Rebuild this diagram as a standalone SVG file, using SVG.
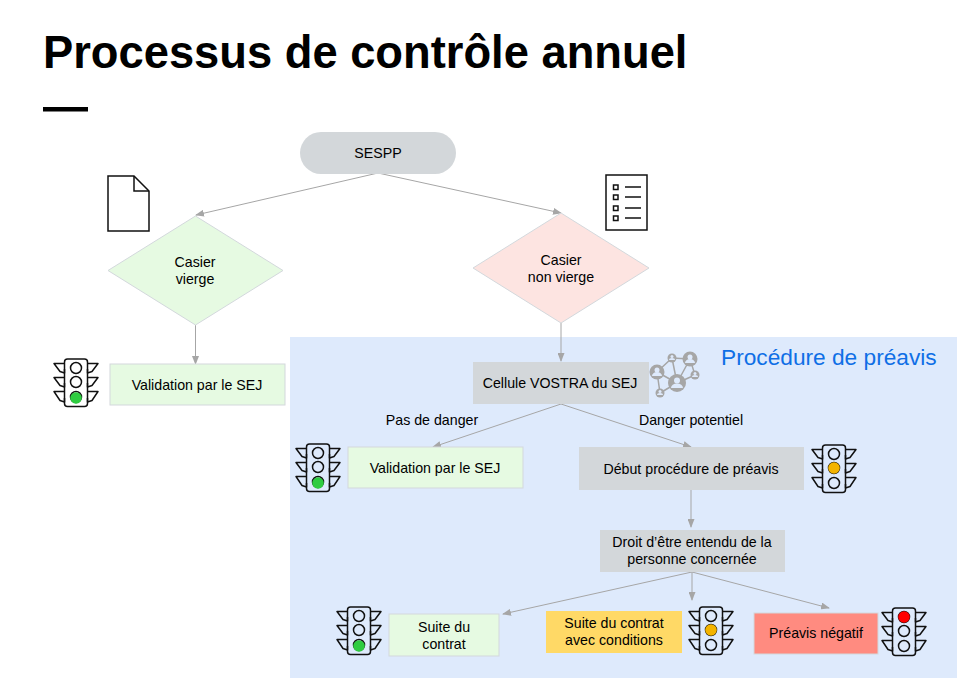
<svg xmlns="http://www.w3.org/2000/svg" width="973" height="682" viewBox="0 0 973 682">
<style>
text{font-family:"Liberation Sans",Arial,sans-serif;font-size:14.200px;fill:#000;text-anchor:middle}
.title{font-size:45.300px;font-weight:bold;text-anchor:start}
.blue{font-size:22.700px;fill:#0f6fe6;text-anchor:start}
.conn{fill:none;stroke:#a6a6a6;stroke-width:1;marker-end:url(#arr)}
.ic{fill:none;stroke:#111;stroke-width:1.500;stroke-linejoin:round}
.g{fill:#e6fae2;stroke:#d3d8dc;stroke-width:1}
.gr{fill:#d3d7da}
.lamp{fill:none;stroke:#111;stroke-width:1.500}
.net{fill:#a6a6a6;stroke:none}
.netl{stroke:#a6a6a6;stroke-width:1.500;fill:none}
</style>
<defs>
<marker id="arr" markerWidth="9" markerHeight="7" refX="8" refY="3.500" orient="auto" markerUnits="userSpaceOnUse"><path d="M0 0L9 3.500L0 7Z" fill="#a6a6a6"/></marker>
<g id="light">
<rect x="-11.500" y="-24" width="23" height="47.500" rx="3" fill="none" class="ic"/>
<path class="ic" d="M-11.500 -14V-10L-16 -11.500L-22 -19.500H-11.500M11.500 -14V-10L16 -11.500L22 -19.500H11.500"/>
<path class="ic" d="M-11.500 0V4L-16 2.500L-22 -5.500H-11.500M11.500 0V4L16 2.500L22 -5.500H11.500"/>
<path class="ic" d="M-11.500 15V19L-16 17.500L-22 8.500H-11.500M11.500 15V19L16 17.500L22 8.500H11.500"/>
<circle class="lamp" cy="-15" r="5.500"/><circle class="lamp" cy="-1" r="5.500"/><circle class="lamp" cy="14" r="5.500"/>
</g>
</defs>
<rect width="973" height="682" fill="#fff"/>
<rect x="290" y="337" width="667" height="341" fill="#deeafc"/>
<text class="title" x="43" y="68">Processus de contrôle annuel</text>
<rect x="43" y="107" width="45" height="4.500" fill="#000"/>
<text class="blue" x="721" y="365">Procédure de préavis</text>
<g id="connectors">
<path class="conn" d="M378 173L196 215"/>
<path class="conn" d="M378 173L561 213"/>
<path class="conn" d="M195.500 325V364"/>
<path class="conn" d="M561 323V361"/>
<path class="conn" d="M561 404L433 447"/>
<path class="conn" d="M561 404L691 447"/>
<path class="conn" d="M691 490V527"/>
<path class="conn" d="M692 572L503 614"/>
<path class="conn" d="M692 572V600"/>
<path class="conn" d="M692 572L829 608"/>
</g>
<g id="sespp"><rect class="gr" x="300" y="132" width="156" height="42" rx="21"/><text x="378" y="158">SESPP</text></g>
<g id="doc-icon"><path d="M108 176H134L149 191V231H108Z" fill="#fff" stroke="#111" stroke-width="1.500"/><path d="M134 176V191H149" fill="none" stroke="#111" stroke-width="1.500"/></g>
<g id="list-icon"><rect x="606" y="175" width="41" height="55" fill="#fff" stroke="#111" stroke-width="1.500"/>
<path d="M625 187H641M625 197H641M625 208H641M625 218H641" stroke="#111" stroke-width="1.300"/>
<g fill="none" stroke="#111" stroke-width="1.500"><rect x="613.500" y="185" width="4.500" height="4.500"/><rect x="613.500" y="195" width="4.500" height="4.500"/><rect x="613.500" y="206" width="4.500" height="4.500"/><rect x="613.500" y="216" width="4.500" height="4.500"/></g></g>
<g id="casier-vierge"><path d="M195.500 216L283 270.500L195.500 325L108 270.500Z" fill="#e6fae2" stroke="#d3d8dc"/><text x="195" y="267">Casier</text><text x="195" y="284">vierge</text></g>
<g id="casier-non-vierge"><path d="M561 213L649 268L561 323L473 268Z" fill="#fde4e1" stroke="#d3d8dc"/><text x="561" y="265">Casier</text><text x="561" y="282">non vierge</text></g>
<g id="validation-1"><rect class="g" x="110" y="364" width="175" height="41"/><text x="197" y="390">Validation par le SEJ</text></g>
<g id="light-1"><use href="#light" x="76" y="383"/><circle cx="76" cy="398" r="5.800" fill="#2ecc40"/></g>
<g id="cellule"><rect class="gr" x="473" y="362" width="176" height="42"/><text x="560" y="388">Cellule VOSTRA du SEJ</text></g>
<g id="network-icon">
<path class="netl" d="M657 372L672 358L690 359M657 372L677 383M657 372L660 393M672 358L677 383M690 359L677 383M690 359L695 375L677 383M660 393L677 383"/>
<circle class="net" cx="657" cy="372" r="7.500"/><circle class="net" cx="672" cy="358" r="4.500"/><circle class="net" cx="690" cy="359" r="7.500"/><circle class="net" cx="695" cy="375" r="4.500"/><circle class="net" cx="677" cy="383" r="9"/><circle class="net" cx="660" cy="393" r="4.500"/>
<g fill="#deeafc"><circle cx="657" cy="370" r="2.500"/><circle cx="672" cy="356.500" r="1.500"/><circle cx="690" cy="357" r="2.500"/><circle cx="695" cy="373.500" r="1.500"/><circle cx="677" cy="380.500" r="3"/><circle cx="660" cy="391.500" r="1.500"/><path d="M652 376a5 4 0 0 1 10 0ZM685 363a5 4 0 0 1 10 0ZM671 388a6 4.500 0 0 1 12 0ZM669 360a3 2 0 0 1 6 0ZM692 377a3 2 0 0 1 6 0ZM657 395a3 2 0 0 1 6 0Z"/></g>
</g>
<text x="432" y="425">Pas de danger</text>
<text x="691" y="425">Danger potentiel</text>
<g id="validation-2"><rect class="g" x="348" y="447" width="175" height="41"/><text x="435" y="473">Validation par le SEJ</text></g>
<g id="light-2"><use href="#light" x="318" y="468"/><circle cx="318" cy="483" r="5.800" fill="#2ecc40"/></g>
<g id="debut"><rect class="gr" x="579" y="447" width="225" height="43"/><text x="691" y="474">Début procédure de préavis</text></g>
<g id="light-3"><use href="#light" x="834" y="469"/><circle cx="834" cy="468" r="5.800" fill="#f4b400"/></g>
<g id="droit"><rect class="gr" x="600" y="530" width="185" height="42"/><text x="692" y="547">Droit d’être entendu de la</text><text x="692" y="564">personne concernée</text></g>
<g id="suite"><rect class="g" x="389" y="614" width="110" height="42"/><text x="444" y="632">Suite du</text><text x="444" y="649">contrat</text></g>
<g id="light-4"><use href="#light" x="359" y="631"/><circle cx="359" cy="646" r="5.800" fill="#2ecc40"/></g>
<g id="suite-conditions"><rect x="546" y="611" width="136" height="42" fill="#ffd966"/><text x="614" y="628">Suite du contrat</text><text x="614" y="645">avec conditions</text></g>
<g id="light-5"><use href="#light" x="711" y="631"/><circle cx="711" cy="630" r="5.800" fill="#f4b400"/></g>
<g id="preavis-negatif"><rect x="754" y="613" width="124" height="41" fill="#ff8b80" stroke="#d3d8dc"/><text x="816" y="638">Préavis négatif</text></g>
<g id="light-6"><use href="#light" x="904" y="632"/><circle cx="904" cy="617" r="5.800" fill="#f00"/></g>
</svg>
